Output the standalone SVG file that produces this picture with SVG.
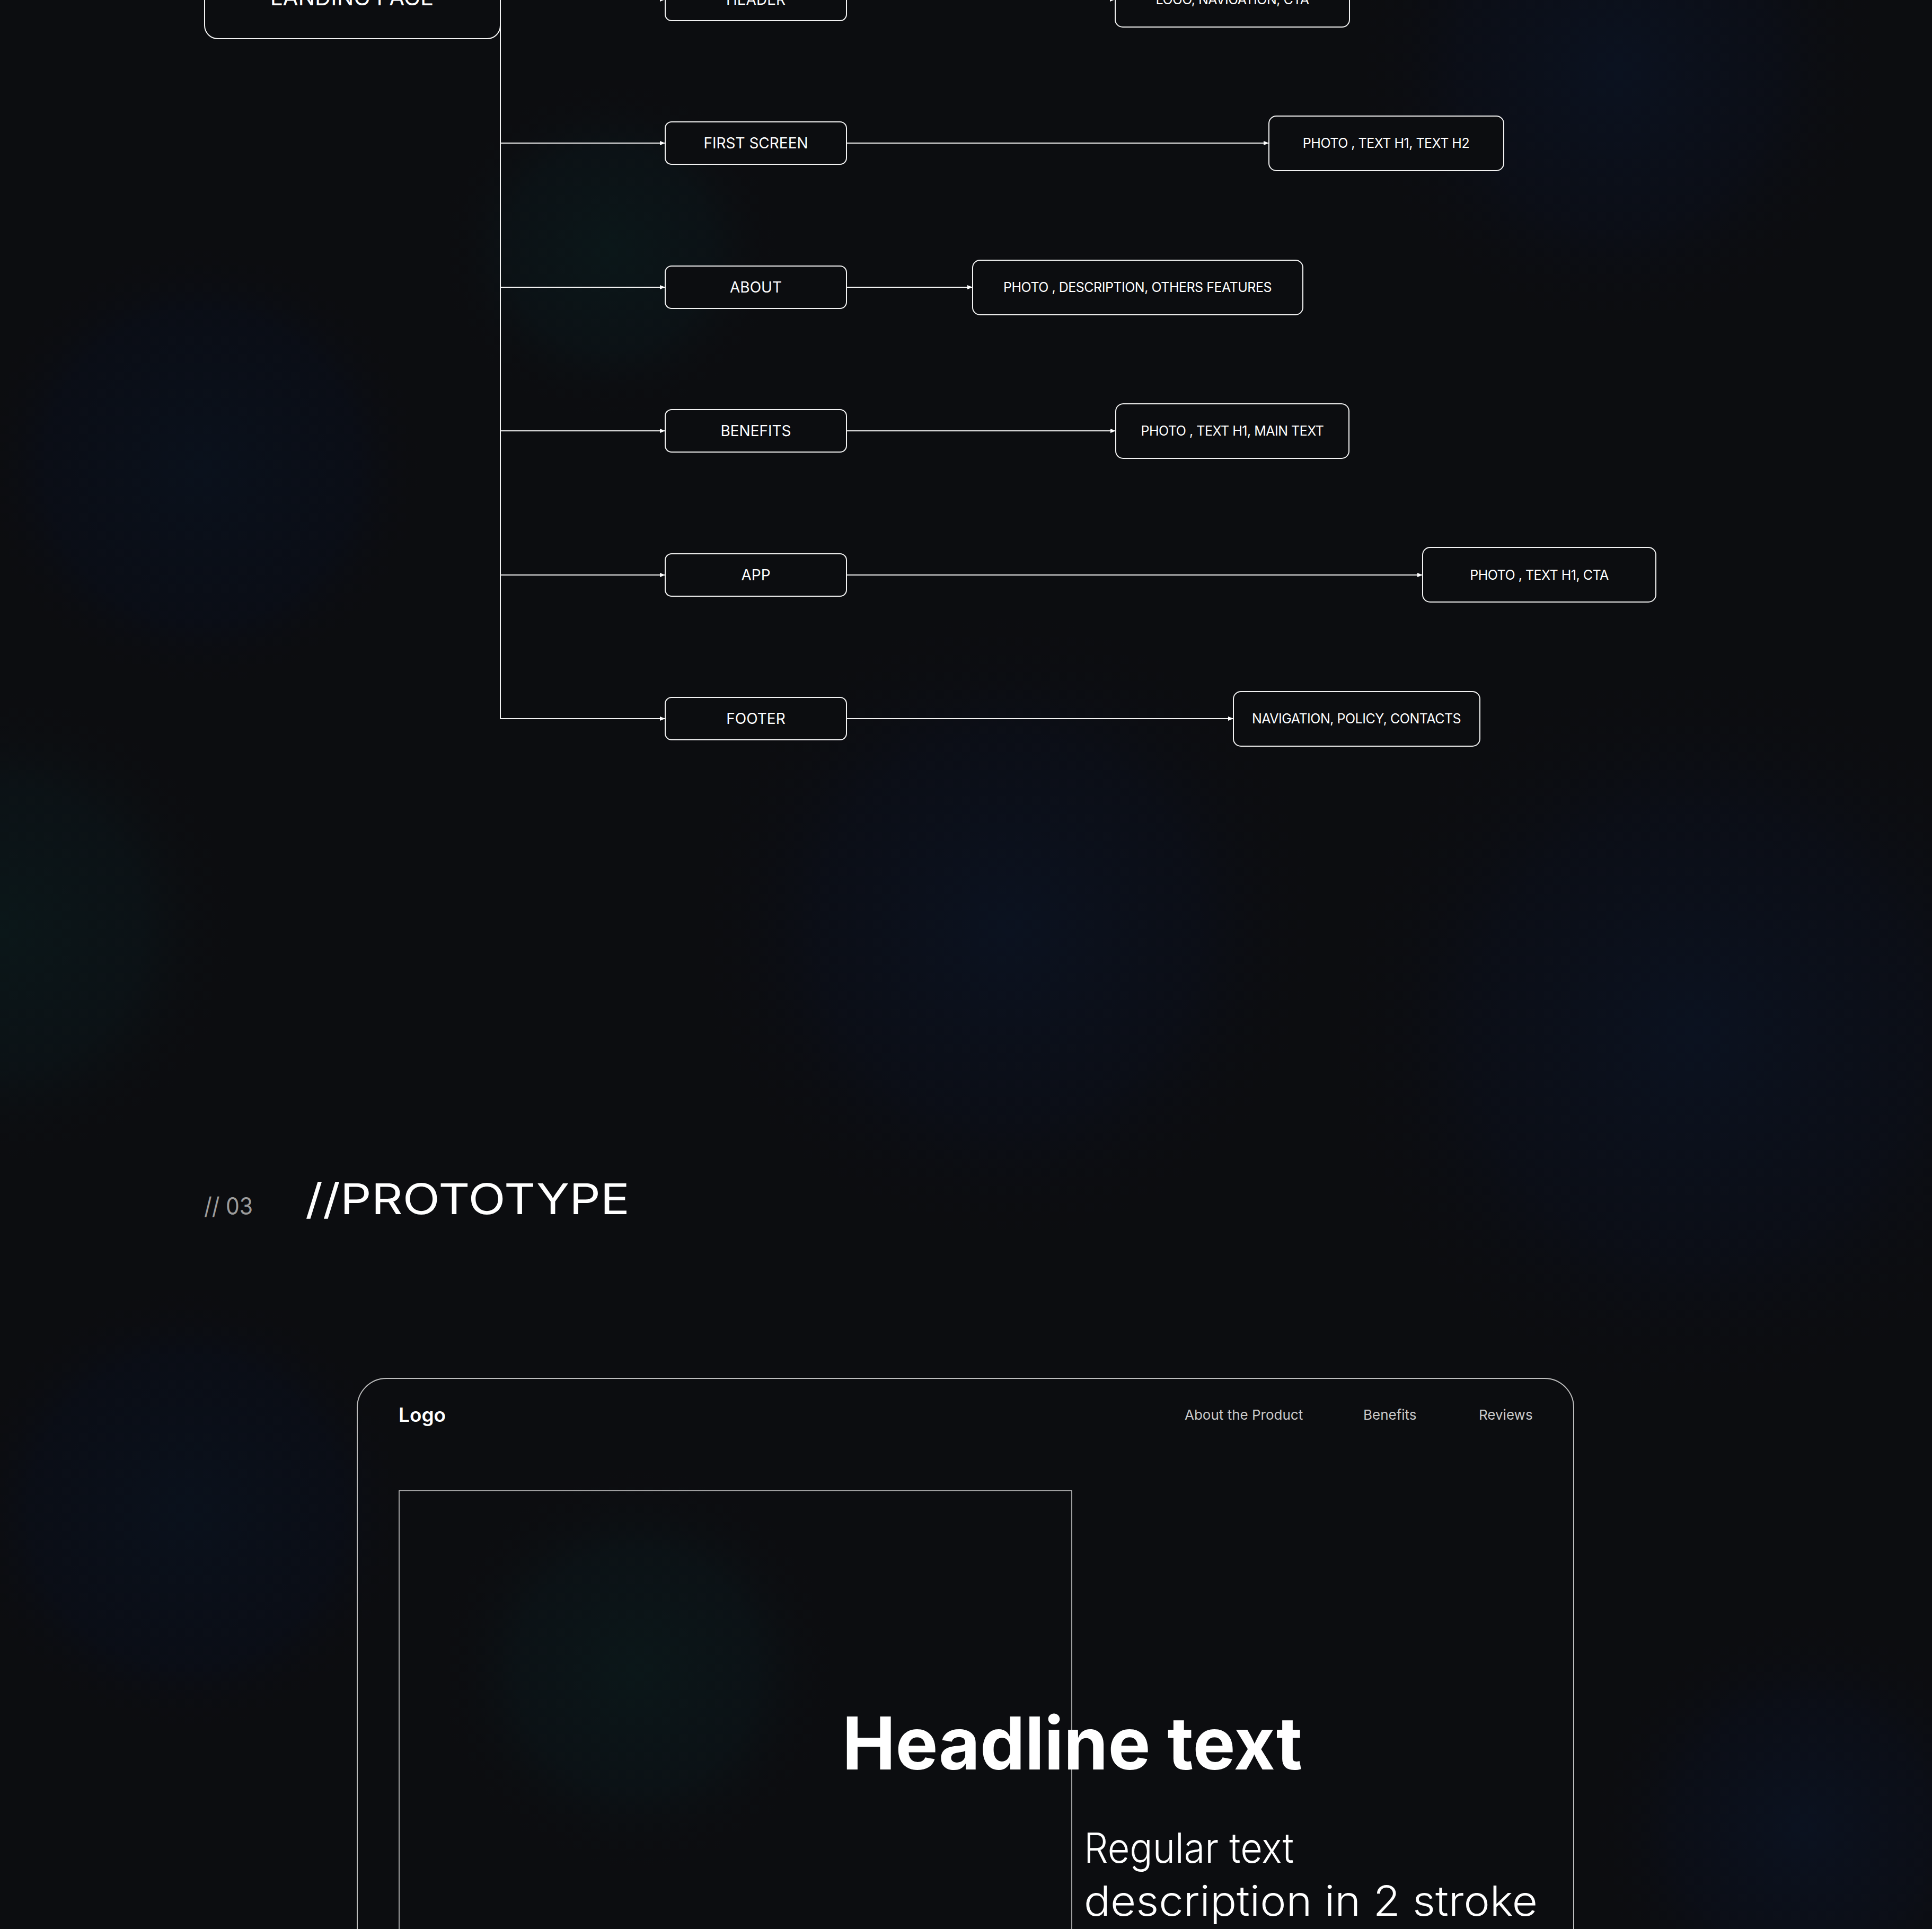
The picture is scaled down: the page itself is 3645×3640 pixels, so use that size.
<svg xmlns="http://www.w3.org/2000/svg" width="3645" height="3640" viewBox="0 0 3645 3640">
<defs>
<radialGradient id="gNavy" cx="0.5" cy="0.5" r="0.5">
<stop offset="0" stop-color="#0a111c" stop-opacity="1"/>
<stop offset="0.7" stop-color="#0a0e18" stop-opacity="0.8"/>
<stop offset="1" stop-color="#0c0d10" stop-opacity="0"/>
</radialGradient>
<radialGradient id="gTeal" cx="0.5" cy="0.5" r="0.5">
<stop offset="0" stop-color="#0b1719" stop-opacity="1"/>
<stop offset="0.6" stop-color="#0b1418" stop-opacity="0.7"/>
<stop offset="1" stop-color="#0c0d10" stop-opacity="0"/>
</radialGradient>
<radialGradient id="gBlue" cx="0.5" cy="0.5" r="0.5">
<stop offset="0" stop-color="#0b1220" stop-opacity="1"/>
<stop offset="0.6" stop-color="#0b0f1a" stop-opacity="0.7"/>
<stop offset="1" stop-color="#0c0d10" stop-opacity="0"/>
</radialGradient>
<marker id="arr" viewBox="0 0 10 10" refX="10" refY="5" markerWidth="10" markerHeight="10" markerUnits="userSpaceOnUse" orient="auto">
<path d="M0,1 L10,5 L0,9 Z" fill="#ffffff"/>
</marker>
<style>
.b1{fill:#0c0d10;stroke:#f2f2f2;stroke-width:2}
.b2{fill:#0c0d10;stroke:#f2f2f2;stroke-width:2}
.t1{font-family:Inter,"Liberation Sans",sans-serif;font-size:28px;fill:#ffffff;text-anchor:middle;dominant-baseline:central}
.t2{font-family:Inter,"Liberation Sans",sans-serif;font-size:25px;fill:#ffffff;text-anchor:middle;dominant-baseline:central;letter-spacing:-0.5px}
.c{stroke:#f2f2f2;stroke-width:2;fill:none}
.ca{stroke:#f2f2f2;stroke-width:2;fill:none;marker-end:url(#arr)}
.ui{font-family:Inter,"Liberation Sans",sans-serif}
</style>
</defs>
<rect x="0" y="0" width="3645" height="3640" fill="#0c0d10"/>
<g id="background">
<circle cx="380" cy="880" r="420" fill="url(#gNavy)"/>
<circle cx="1150" cy="470" r="320" fill="url(#gTeal)"/>
<circle cx="3050" cy="130" r="500" fill="url(#gBlue)"/>
<circle cx="3200" cy="1950" r="700" fill="url(#gBlue)"/>
<circle cx="0" cy="1750" r="450" fill="url(#gTeal)"/>
<circle cx="1900" cy="1750" r="600" fill="url(#gBlue)"/>
<circle cx="1200" cy="3150" r="380" fill="url(#gTeal)"/>
<circle cx="350" cy="2850" r="420" fill="url(#gNavy)"/>
<circle cx="3400" cy="3450" r="400" fill="url(#gBlue)"/>
</g>
<g id="connectors">
<line class="c" x1="944" y1="-10" x2="944" y2="1357"/>
<line class="ca" x1="944" y1="-1" x2="1255" y2="-1"/>
<line class="ca" x1="944" y1="270" x2="1255" y2="270"/>
<line class="ca" x1="944" y1="542" x2="1255" y2="542"/>
<line class="ca" x1="944" y1="813" x2="1255" y2="813"/>
<line class="ca" x1="944" y1="1085" x2="1255" y2="1085"/>
<line class="ca" x1="944" y1="1356" x2="1255" y2="1356"/>
<line class="ca" x1="1597" y1="-1" x2="2104" y2="-1"/>
<line class="ca" x1="1597" y1="270" x2="2394" y2="270"/>
<line class="ca" x1="1597" y1="542" x2="1835" y2="542"/>
<line class="ca" x1="1597" y1="813" x2="2105" y2="813"/>
<line class="ca" x1="1597" y1="1085" x2="2684" y2="1085"/>
<line class="ca" x1="1597" y1="1356" x2="2327" y2="1356"/>
</g>
<g id="landing-page">
<rect class="b1" x="386" y="-100" width="558" height="173" rx="25"/>
<text class="ui" x="664" y="10" font-size="42" fill="#ffffff" text-anchor="middle">LANDING PAGE</text>
</g>
<g id="header">
<rect class="b1" x="1255" y="-41" width="342" height="80" rx="12"/>
<text class="t1" x="1426" y="-1">HEADER</text>
</g>
<g id="first-screen">
<rect class="b1" x="1255" y="230" width="342" height="80" rx="12"/>
<text class="t1" x="1426" y="270">FIRST SCREEN</text>
</g>
<g id="about">
<rect class="b1" x="1255" y="502" width="342" height="80" rx="12"/>
<text class="t1" x="1426" y="542">ABOUT</text>
</g>
<g id="benefits">
<rect class="b1" x="1255" y="773" width="342" height="80" rx="12"/>
<text class="t1" x="1426" y="813">BENEFITS</text>
</g>
<g id="app">
<rect class="b1" x="1255" y="1045" width="342" height="80" rx="12"/>
<text class="t1" x="1426" y="1085">APP</text>
</g>
<g id="footer">
<rect class="b1" x="1255" y="1316" width="342" height="80" rx="12"/>
<text class="t1" x="1426" y="1356">FOOTER</text>
</g>
<g id="header-content">
<rect class="b2" x="2104" y="-52" width="442" height="103" rx="14"/>
<text class="t2" x="2325" y="-1">LOGO, NAVIGATION, CTA</text>
</g>
<g id="first-screen-content">
<rect class="b2" x="2394" y="219" width="443" height="103" rx="14"/>
<text class="t2" x="2615" y="270">PHOTO , TEXT H1, TEXT H2</text>
</g>
<g id="about-content">
<rect class="b2" x="1835" y="491" width="623" height="103" rx="14"/>
<text class="t2" x="2146" y="542">PHOTO , DESCRIPTION, OTHERS FEATURES</text>
</g>
<g id="benefits-content">
<rect class="b2" x="2105" y="762" width="440" height="103" rx="14"/>
<text class="t2" x="2325" y="813">PHOTO , TEXT H1, MAIN TEXT</text>
</g>
<g id="app-content">
<rect class="b2" x="2684" y="1033" width="440" height="103" rx="14"/>
<text class="t2" x="2904" y="1085">PHOTO , TEXT H1, CTA</text>
</g>
<g id="footer-content">
<rect class="b2" x="2327" y="1305" width="465" height="103" rx="14"/>
<text class="t2" x="2559" y="1356">NAVIGATION, POLICY, CONTACTS</text>
</g>
<g id="section-title">
<text class="ui" x="385" y="2292" font-size="45" fill="#9c9c9c" textLength="92" lengthAdjust="spacingAndGlyphs">// 03</text>
<text class="ui" x="576" y="2291" font-size="80" fill="#ffffff" textLength="612" lengthAdjust="spacingAndGlyphs">//PROTOTYPE</text>
</g>
<g id="prototype">
<rect x="674" y="2601" width="2295" height="1300" rx="55" fill="none" stroke="#bdbdbd" stroke-width="2"/>
<text class="ui" x="752" y="2683" font-size="37" font-weight="600" fill="#ffffff">Logo</text>
<text class="ui" x="2235" y="2679" font-size="26" fill="#c9c9c9">About the Product</text>
<text class="ui" x="2572" y="2679" font-size="26" fill="#c9c9c9">Benefits</text>
<text class="ui" x="2790" y="2679" font-size="26" fill="#c9c9c9">Reviews</text>
<rect x="753" y="2813" width="1269" height="1000" fill="none" stroke="#cfcfcf" stroke-width="1.5"/>
<text class="ui" x="1589" y="3339" font-size="137" font-weight="700" fill="#ffffff" textLength="868" lengthAdjust="spacingAndGlyphs">Headline text</text>
<text class="ui" x="2045" y="3515" font-size="78" font-weight="300" fill="#ffffff" textLength="396" lengthAdjust="spacingAndGlyphs">Regular text</text>
<text class="ui" x="2045" y="3615" font-size="78" font-weight="300" fill="#ffffff" textLength="856" lengthAdjust="spacingAndGlyphs">description in 2 stroke</text>
</g>
</svg>
